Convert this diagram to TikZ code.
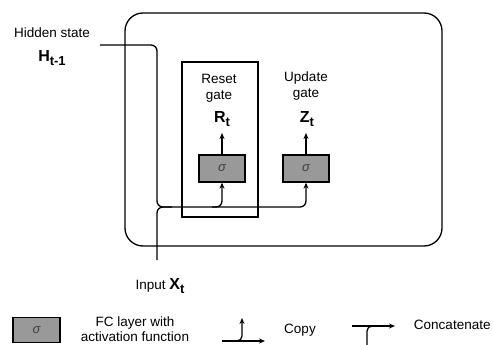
\documentclass[tikz,border=0pt]{standalone}
\usepackage{fontspec}
\setmainfont{Liberation Sans}
\usetikzlibrary{arrows.meta,positioning}
\newcommand{\gatevar}[2]{{\fontsize{16}{16}\selectfont\bfseries #1\raisebox{-4pt}{\fontsize{13}{13}\selectfont\bfseries #2}}}
\begin{document}
\begin{tikzpicture}
[x=1pt, y=-1pt, line width=1.3pt, font=\fontsize{13.5}{16}\selectfont,
sigma box/.style={draw, fill=black!40, minimum width=46pt, minimum height=27pt, inner sep=0pt, font=\fontsize{13}{13}\selectfont\itshape\color{black!75}},
flow/.style={-{Stealth[length=6pt,width=5pt]}},
bend line/.style={rounded corners=6pt}]
\useasboundingbox (0,0) rectangle (493,345);

% cell and reset gate frame
\node[draw, rounded corners=18pt, minimum width=317pt, minimum height=233pt] (cell) at (283.5,129.5) {};
\node[draw, minimum width=76pt, minimum height=155pt] (resetbox) at (220,139.5) {};

% gates
\node[sigma box] (sigR) at (222,168.5) {σ};
\node[sigma box] (sigU) at (306,168.5) {σ};
\node (R) at (222,119) {\gatevar{R}{t}};
\node (Z) at (307,119) {\gatevar{Z}{t}};
\node[align=center] (rlab) at (219,88) {Reset\\gate};
\node[align=center] (ulab) at (306,86) {Update\\gate};
\coordinate (Rin) at (222,133);
\coordinate (Zin) at (306,133);
\draw[flow] (sigR) -- (Rin);
\draw[flow] (sigU) -- (Zin);

% inputs
\node (hlab) at (52,33) {Hidden state};
\node (H) at (52,58) {\gatevar{H}{t-1}};
\node (xlab) at (160,286) {Input \gatevar{X}{t}};
\coordinate (hin) at (100,45);
\coordinate (xin) at (157,260);
\coordinate (merge) at (157,207);
\coordinate (split) at (212,207);
\coordinate (join) at (172,207);

\draw[bend line] (hin) -| (merge) -- (join);
\draw[bend line, flow] (xin) -- (merge) -| (sigU.south);
\draw[bend line, flow] (split) -| (sigR.south);

% legend
\node[sigma box, minimum width=47pt, minimum height=25pt] (lsig) at (36.5,330) {σ};
\node[align=center, font=\fontsize{13.5}{15}\selectfont] (lfc) at (135,329) {FC layer with\\activation function};
\coordinate (c1) at (222,341);
\coordinate (c2) at (265,341);
\coordinate (c3) at (234,341);
\coordinate (c4) at (242,318);
\draw[flow] (c1) -- (c2);
\draw[flow, rounded corners=5pt] (c3) -| (c4);
\node (lcopy) at (300,330) {Copy};
\coordinate (k1) at (352,326);
\coordinate (k2) at (395,326);
\coordinate (k3) at (367,345);
\coordinate (k4) at (376,326);
\draw[flow] (k1) -- (k2);
\draw[rounded corners=5pt] (k3) |- (k4);
\node[anchor=west] (lcat) at (410,325) {Concatenate};
\end{tikzpicture}
\end{document}
